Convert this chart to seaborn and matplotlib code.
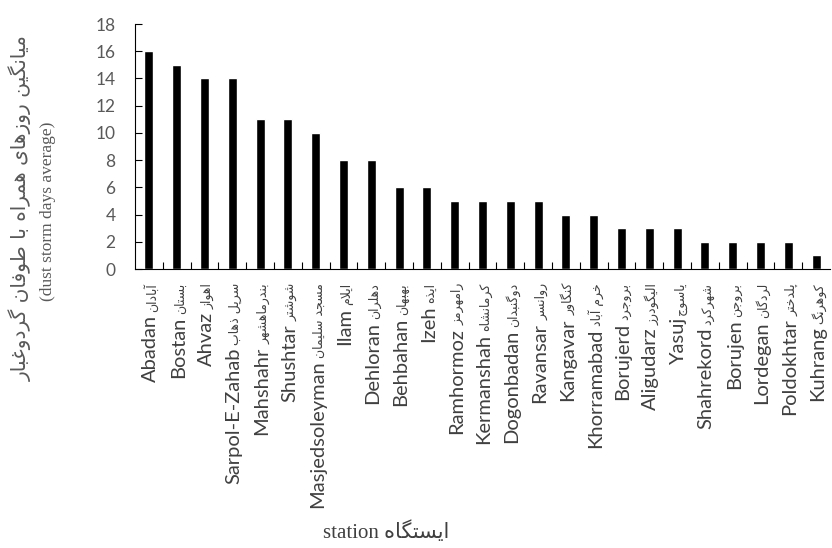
import matplotlib
matplotlib.use("Agg")
import matplotlib.pyplot as plt
import seaborn as sns

# Stations (English / Persian) and mean number of dust-storm days
stations_en = ["Abadan", "Bostan", "Ahvaz", "Sarpol-E-Zahab", "Mahshahr", "Shushtar",
               "Masjedsoleyman", "Ilam", "Dehloran", "Behbahan", "Izeh", "Ramhormoz",
               "Kermanshah", "Dogonbadan", "Ravansar", "Kangavar", "Khorramabad",
               "Borujerd", "Aligudarz", "Yasuj", "Shahrekord", "Borujen", "Lordegan",
               "Poldokhtar", "Kuhrang"]
stations_fa = ["آبادان", "بستان", "اهواز", "سرپل ذهاب", "بندرماهشهر", "شوشتر",
               "مسجد سلیمان", "ایلام", "دهلران", "بهبهان", "ایذه", "رامهرمز",
               "کرمانشاه", "دوگنبدان", "روانسر", "کنگاور", "خرم آباد",
               "بروجرد", "الیگودرز", "یاسوج", "شهرکرد", "بروجن", "لردگان",
               "پلدختر", "کوهرنگ"]
dust_days = [16, 15, 14, 14, 11, 11, 10, 8, 8, 6, 6, 5, 5, 5, 5, 4, 4,
             3, 3, 3, 2, 2, 2, 2, 1]
y_ticks = [0, 2, 4, 6, 8, 10, 12, 14, 16, 18]

ylabel_fa = "میانگین روزهای همراه با طوفان گردوغبار"
ylabel_en = "(dust storm days average)"
xlabel_fa = "ایستگاه"
xlabel_en = "station"

# --- minimal Arabic-script shaping (matplotlib draws glyphs one by one, LTR) ---
# letter: (isolated, final, initial, medial); right-joining letters have no initial/medial
FORMS = {
    "ا": ("\uFE8D", "\uFE8E", None, None),
    "آ": ("\uFE81", "\uFE82", None, None),
    "ب": ("\uFE8F", "\uFE90", "\uFE91", "\uFE92"),
    "پ": ("\uFB56", "\uFB57", "\uFB58", "\uFB59"),
    "ت": ("\uFE95", "\uFE96", "\uFE97", "\uFE98"),
    "ث": ("\uFE99", "\uFE9A", "\uFE9B", "\uFE9C"),
    "ج": ("\uFE9D", "\uFE9E", "\uFE9F", "\uFEA0"),
    "چ": ("\uFB7A", "\uFB7B", "\uFB7C", "\uFB7D"),
    "ح": ("\uFEA1", "\uFEA2", "\uFEA3", "\uFEA4"),
    "خ": ("\uFEA5", "\uFEA6", "\uFEA7", "\uFEA8"),
    "د": ("\uFEA9", "\uFEAA", None, None),
    "ذ": ("\uFEAB", "\uFEAC", None, None),
    "ر": ("\uFEAD", "\uFEAE", None, None),
    "ز": ("\uFEAF", "\uFEB0", None, None),
    "ژ": ("\uFB8A", "\uFB8B", None, None),
    "س": ("\uFEB1", "\uFEB2", "\uFEB3", "\uFEB4"),
    "ش": ("\uFEB5", "\uFEB6", "\uFEB7", "\uFEB8"),
    "ص": ("\uFEB9", "\uFEBA", "\uFEBB", "\uFEBC"),
    "ض": ("\uFEBD", "\uFEBE", "\uFEBF", "\uFEC0"),
    "ط": ("\uFEC1", "\uFEC2", "\uFEC3", "\uFEC4"),
    "ظ": ("\uFEC5", "\uFEC6", "\uFEC7", "\uFEC8"),
    "ع": ("\uFEC9", "\uFECA", "\uFECB", "\uFECC"),
    "غ": ("\uFECD", "\uFECE", "\uFECF", "\uFED0"),
    "ف": ("\uFED1", "\uFED2", "\uFED3", "\uFED4"),
    "ق": ("\uFED5", "\uFED6", "\uFED7", "\uFED8"),
    "ک": ("\uFB8E", "\uFB8F", "\uFB90", "\uFB91"),
    "گ": ("\uFB92", "\uFB93", "\uFB94", "\uFB95"),
    "ل": ("\uFEDD", "\uFEDE", "\uFEDF", "\uFEE0"),
    "م": ("\uFEE1", "\uFEE2", "\uFEE3", "\uFEE4"),
    "ن": ("\uFEE5", "\uFEE6", "\uFEE7", "\uFEE8"),
    "ه": ("\uFEE9", "\uFEEA", "\uFEEB", "\uFEEC"),
    "و": ("\uFEED", "\uFEEE", None, None),
    "ی": ("\uFBFC", "\uFBFD", "\uFBFE", "\uFBFF"),
}
LIGATURES = {"\uFEDF\uFE8E": "\uFEFB", "\uFEE0\uFE8E": "\uFEFC",
             "\uFEDF\uFE82": "\uFEF5", "\uFEE0\uFE82": "\uFEF6"}


def shape(text):
    out = []
    for i, c in enumerate(text):
        if c not in FORMS:
            out.append(c)
            continue
        prev = text[i - 1] if i > 0 else None
        nxt = text[i + 1] if i + 1 < len(text) else None
        join_prev = prev in FORMS and FORMS[prev][2] is not None
        join_next = FORMS[c][2] is not None and nxt in FORMS
        iso, fin, ini, med = FORMS[c]
        out.append(med if join_prev and join_next else fin if join_prev
                   else ini if join_next else iso)
    s = "".join(out)
    for pair, lig in LIGATURES.items():
        s = s.replace(pair, lig)
    return s[::-1]


sns.set_theme(style="white")
plt.rcParams["font.family"] = ["Lato", "DejaVu Sans"]

fig = plt.figure(figsize=(8.32, 5.48), dpi=100)
ax = fig.add_axes([0.1623, 0.5091, 0.8353, 0.4471])

sns.barplot(x=stations_en, y=dust_days, color="black", saturation=1,
            width=0.32, ax=ax)

ax.set_xlim(-0.5, len(stations_en) - 0.5)
ax.set_ylim(0, 18)
ax.set_yticks(y_ticks)
ax.tick_params(axis="y", direction="in", length=5, width=0.8, color="black",
               pad=14, labelsize=12.5, labelcolor="#595959", left=True)
ax.set_xticks(range(len(stations_en)))
ax.set_xticklabels([])
ax.tick_params(axis="x", which="major", length=0)
ax.set_xticks([i + 0.5 for i in range(len(stations_en) - 1)], minor=True)
ax.tick_params(axis="x", which="minor", direction="in", length=5, width=0.8,
               color="black", bottom=True)
for side in ("top", "right"):
    ax.spines[side].set_visible(False)
for side in ("left", "bottom"):
    ax.spines[side].set_color("black")
    ax.spines[side].set_linewidth(0.8)
ax.set_xlabel("")
ax.set_ylabel("")

# Bilingual station labels: Persian name next to the axis, English name after it
for i, (en, fa) in enumerate(zip(stations_en, stations_fa)):
    fa_txt = ax.annotate(shape(fa), xy=(i, 0), xycoords=ax.get_xaxis_transform(),
                         xytext=(5, -10), textcoords="offset points",
                         rotation=90, rotation_mode="anchor", ha="right",
                         va="baseline", fontsize=9, color="#404040",
                         family="DejaVu Sans")
    ax.annotate(en, xy=(i, 0), xycoords=("data", fa_txt),
                xytext=(5, -2), textcoords="offset points",
                rotation=90, rotation_mode="anchor", ha="right", va="baseline",
                fontsize=14.5, color="#404040", family=["Lato", "DejaVu Sans"])

# Two-line y-axis title: Persian line, then the English one
fig.text(20 / 832, 1 - 208 / 548, shape(ylabel_fa), rotation=90,
         ha="center", va="center", fontsize=14.5, color="#595959",
         family="DejaVu Sans")
fig.text(48 / 832, 1 - 211 / 548, ylabel_en, rotation=90,
         ha="center", va="center", fontsize=12.5, color="#595959",
         family="Liberation Serif")
fig.text(0.464, 1 - 532 / 548, xlabel_en + " " + shape(xlabel_fa),
         ha="center", va="center", fontsize=15, color="#404040",
         family=["Liberation Serif", "DejaVu Sans"])

fig.savefig("out.png", dpi=100)
